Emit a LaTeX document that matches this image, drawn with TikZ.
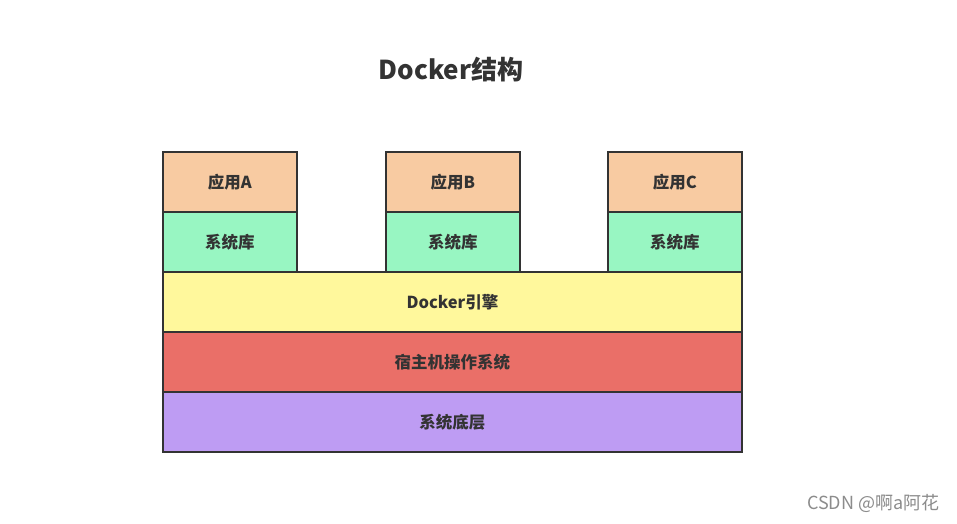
\documentclass[tikz,border=0pt]{standalone}
\usepackage{fontspec}
\setmainfont{Noto Sans CJK SC}
\begin{document}
\begin{tikzpicture}[x=1pt,y=-1pt,
  layer/.style={draw=black!80, line width=1.8pt, minimum height=60pt, inner sep=0pt, anchor=north west,
    font=\fontsize{16.5}{18}\selectfont\bfseries, text=black!80},
  appbox/.style={layer, minimum width=134pt, fill=appc},
  libbox/.style={layer, minimum width=134pt, fill=libc},
  wide/.style={layer, minimum width=579pt}
]
\definecolor{appc}{HTML}{F8CBA2}
\definecolor{libc}{HTML}{98F6C2}
\definecolor{engc}{HTML}{FFF89C}
\definecolor{osc}{HTML}{EA6F68}
\definecolor{hwc}{HTML}{BE9CF3}
\useasboundingbox[fill=white] (0,0) rectangle (957,523);
\node[font=\fontsize{26}{30}\selectfont\bfseries, text=black!80] (title) at (451,70) {Docker结构};
\node[appbox] (appA) at (162,151) {应用A};
\node[appbox] (appB) at (385,151) {应用B};
\node[appbox] (appC) at (607,151) {应用C};
\node[libbox] (libA) at (162,211) {系统库};
\node[libbox] (libB) at (385,211) {系统库};
\node[libbox] (libC) at (607,211) {系统库};
\node[wide, fill=engc] (eng) at (162,271) {Docker引擎};
\node[wide, fill=osc] (os) at (162,331) {宿主机操作系统};
\node[wide, fill=hwc] (hw) at (162,391) {系统底层};
\node[font=\fontsize{18}{20}\selectfont, text=black!45, anchor=east] (wm) at (943,503) {CSDN @啊a阿花};
\end{tikzpicture}
\end{document}
